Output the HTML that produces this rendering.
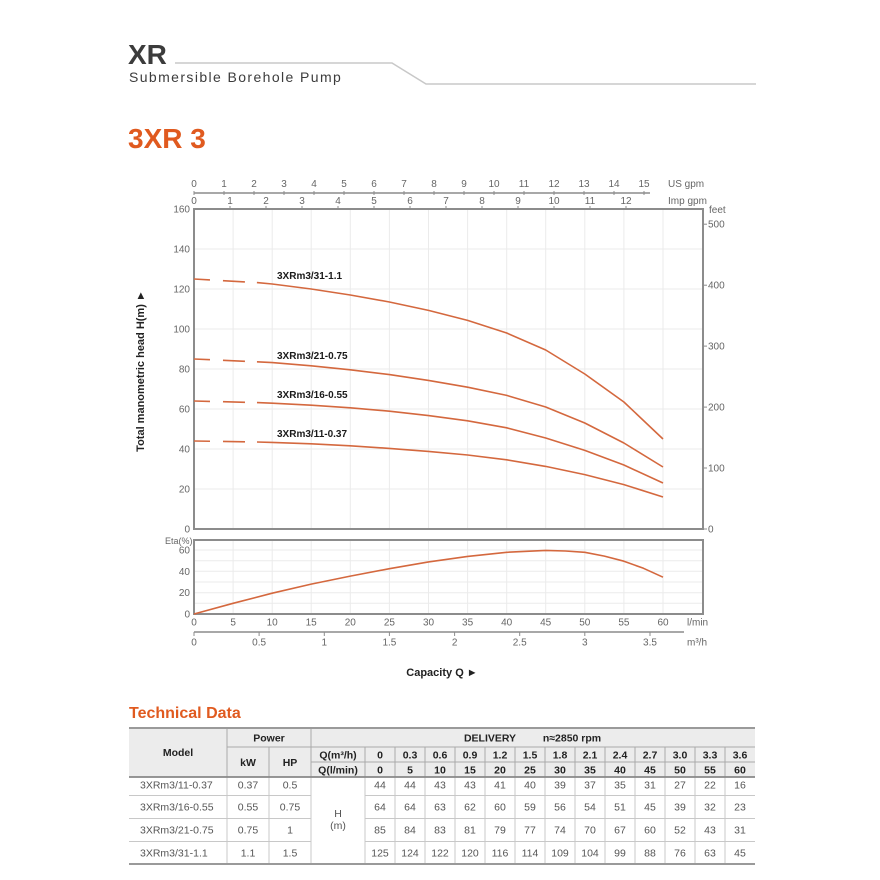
<!DOCTYPE html>
<html><head><meta charset="utf-8"><style>
html,body{margin:0;padding:0;background:#fff;}
svg{display:block;font-family:"Liberation Sans",Arial,sans-serif;}
</style></head><body>
<svg width="880" height="880" viewBox="0 0 880 880" xmlns="http://www.w3.org/2000/svg">
<rect width="880" height="880" fill="#fff"/>
<!-- header -->
<text x="128" y="64" font-size="28" font-weight="bold" fill="#3c3c3c">XR</text>
<text x="129" y="82" font-size="14" fill="#3c3c3c" letter-spacing="1.4">Submersible Borehole Pump</text>
<polyline points="175,63 392,63 426,84 756,84" fill="none" stroke="#c8c8c8" stroke-width="1.5"/>
<text x="128" y="148" font-size="28" font-weight="bold" fill="#e05a1f">3XR 3</text>

<!-- main chart gridlines -->
<g stroke="#ebebeb" stroke-width="1">
<line x1="233.1" y1="209" x2="233.1" y2="529"/><line x1="272.2" y1="209" x2="272.2" y2="529"/>
<line x1="311.2" y1="209" x2="311.2" y2="529"/><line x1="350.3" y1="209" x2="350.3" y2="529"/>
<line x1="389.4" y1="209" x2="389.4" y2="529"/><line x1="428.5" y1="209" x2="428.5" y2="529"/>
<line x1="467.6" y1="209" x2="467.6" y2="529"/><line x1="506.7" y1="209" x2="506.7" y2="529"/>
<line x1="545.7" y1="209" x2="545.7" y2="529"/><line x1="584.8" y1="209" x2="584.8" y2="529"/>
<line x1="623.9" y1="209" x2="623.9" y2="529"/><line x1="663" y1="209" x2="663" y2="529"/>
<line x1="194" y1="249" x2="703" y2="249"/><line x1="194" y1="289" x2="703" y2="289"/>
<line x1="194" y1="329" x2="703" y2="329"/><line x1="194" y1="369" x2="703" y2="369"/>
<line x1="194" y1="409" x2="703" y2="409"/><line x1="194" y1="449" x2="703" y2="449"/>
<line x1="194" y1="489" x2="703" y2="489"/>
</g>
<rect x="194" y="209" width="509" height="320" fill="none" stroke="#8c8c8c" stroke-width="2"/>

<!-- left labels -->
<g font-size="10" fill="#666" text-anchor="end">
<text x="190" y="212.5">160</text><text x="190" y="252.5">140</text><text x="190" y="292.5">120</text>
<text x="190" y="332.5">100</text><text x="190" y="372.5">80</text><text x="190" y="412.5">60</text>
<text x="190" y="452.5">40</text><text x="190" y="492.5">20</text><text x="190" y="532.5">0</text>
</g>
<!-- right feet -->
<g stroke="#8c8c8c" stroke-width="1">
<line x1="703" y1="224.2" x2="707" y2="224.2"/><line x1="703" y1="285.2" x2="707" y2="285.2"/>
<line x1="703" y1="346.1" x2="707" y2="346.1"/><line x1="703" y1="407.1" x2="707" y2="407.1"/>
<line x1="703" y1="468" x2="707" y2="468"/><line x1="703" y1="529" x2="707" y2="529"/>
</g>
<g font-size="10" fill="#666">
<text x="709" y="213">feet</text>
<text x="708" y="227.7">500</text><text x="708" y="288.7">400</text><text x="708" y="349.6">300</text>
<text x="708" y="410.6">200</text><text x="708" y="471.5">100</text><text x="708" y="532.5">0</text>
</g>

<!-- top axes -->
<line x1="194" y1="193" x2="650" y2="193" stroke="#8c8c8c" stroke-width="1.5"/>
<g stroke="#8c8c8c" stroke-width="1">
<line x1="194" y1="191" x2="194" y2="195"/><line x1="224" y1="191" x2="224" y2="195"/><line x1="254" y1="191" x2="254" y2="195"/>
<line x1="284" y1="191" x2="284" y2="195"/><line x1="314" y1="191" x2="314" y2="195"/><line x1="344" y1="191" x2="344" y2="195"/>
<line x1="374" y1="191" x2="374" y2="195"/><line x1="404" y1="191" x2="404" y2="195"/><line x1="434" y1="191" x2="434" y2="195"/>
<line x1="464" y1="191" x2="464" y2="195"/><line x1="494" y1="191" x2="494" y2="195"/><line x1="524" y1="191" x2="524" y2="195"/>
<line x1="554" y1="191" x2="554" y2="195"/><line x1="584" y1="191" x2="584" y2="195"/><line x1="614" y1="191" x2="614" y2="195"/>
<line x1="644" y1="191" x2="644" y2="195"/>
<line x1="230" y1="206" x2="230" y2="209"/><line x1="266" y1="206" x2="266" y2="209"/><line x1="302" y1="206" x2="302" y2="209"/>
<line x1="338" y1="206" x2="338" y2="209"/><line x1="374" y1="206" x2="374" y2="209"/><line x1="410" y1="206" x2="410" y2="209"/>
<line x1="446" y1="206" x2="446" y2="209"/><line x1="482" y1="206" x2="482" y2="209"/><line x1="518" y1="206" x2="518" y2="209"/>
<line x1="554" y1="206" x2="554" y2="209"/><line x1="590" y1="206" x2="590" y2="209"/><line x1="626" y1="206" x2="626" y2="209"/>
</g>
<g font-size="10" fill="#666" text-anchor="middle">
<text x="194" y="187">0</text><text x="224" y="187">1</text><text x="254" y="187">2</text><text x="284" y="187">3</text>
<text x="314" y="187">4</text><text x="344" y="187">5</text><text x="374" y="187">6</text><text x="404" y="187">7</text>
<text x="434" y="187">8</text><text x="464" y="187">9</text><text x="494" y="187">10</text><text x="524" y="187">11</text>
<text x="554" y="187">12</text><text x="584" y="187">13</text><text x="614" y="187">14</text><text x="644" y="187">15</text>
<text x="194" y="204">0</text><text x="230" y="204">1</text><text x="266" y="204">2</text><text x="302" y="204">3</text>
<text x="338" y="204">4</text><text x="374" y="204">5</text><text x="410" y="204">6</text><text x="446" y="204">7</text>
<text x="482" y="204">8</text><text x="518" y="204">9</text><text x="554" y="204">10</text><text x="590" y="204">11</text>
<text x="626" y="204">12</text>
</g>
<g font-size="10" fill="#666">
<text x="668" y="187">US gpm</text>
<text x="668" y="204">Imp gpm</text>
</g>

<!-- y title -->
<text transform="translate(144,371) rotate(-90)" text-anchor="middle" font-size="11" font-weight="bold" fill="#222">Total manometric head H(m) ►</text>

<!-- curves -->
<g fill="none" stroke="#d4683e" stroke-width="1.6" stroke-linejoin="round" stroke-linecap="butt">
<line x1="194" y1="279" x2="257" y2="282.6" stroke-dasharray="16 13 22 12"/>
<polyline points="257,282.6 272.2,284 311.2,289 350.3,295 389.4,302 428.5,310.4 467.6,320.4 506.7,333 545.7,350 584.8,374 623.9,402 663,439"/>
<line x1="194" y1="359" x2="257" y2="361.8" stroke-dasharray="16 13 22 12"/>
<polyline points="257,361.8 272.2,362.6 311.2,365.8 350.3,369.8 389.4,374.6 428.5,380.4 467.6,387.2 506.7,395.4 545.7,407 584.8,423 623.9,443 663,467"/>
<line x1="194" y1="401" x2="257" y2="402.6" stroke-dasharray="16 13 22 12"/>
<polyline points="257,402.6 272.2,403.2 311.2,405.2 350.3,407.8 389.4,411.2 428.5,415.6 467.6,420.8 506.7,427.8 545.7,438 584.8,450.4 623.9,465 663,483"/>
<line x1="194" y1="441" x2="257" y2="442" stroke-dasharray="16 13 22 12"/>
<polyline points="257,442 272.2,442.4 311.2,443.8 350.3,445.8 389.4,448.4 428.5,451.4 467.6,455 506.7,459.8 545.7,466.4 584.8,474.6 623.9,484.6 663,497"/>
</g>
<g font-size="10" font-weight="bold" fill="#1a1a1a">
<text x="277" y="279">3XRm3/31-1.1</text>
<text x="277" y="359">3XRm3/21-0.75</text>
<text x="277" y="398">3XRm3/16-0.55</text>
<text x="277" y="437">3XRm3/11-0.37</text>
</g>

<!-- eta chart -->
<g stroke="#ebebeb" stroke-width="1">
<line x1="233.1" y1="540" x2="233.1" y2="614"/><line x1="272.2" y1="540" x2="272.2" y2="614"/>
<line x1="311.2" y1="540" x2="311.2" y2="614"/><line x1="350.3" y1="540" x2="350.3" y2="614"/>
<line x1="389.4" y1="540" x2="389.4" y2="614"/><line x1="428.5" y1="540" x2="428.5" y2="614"/>
<line x1="467.6" y1="540" x2="467.6" y2="614"/><line x1="506.7" y1="540" x2="506.7" y2="614"/>
<line x1="545.7" y1="540" x2="545.7" y2="614"/><line x1="584.8" y1="540" x2="584.8" y2="614"/>
<line x1="623.9" y1="540" x2="623.9" y2="614"/><line x1="663" y1="540" x2="663" y2="614"/>
<line x1="194" y1="603.3" x2="703" y2="603.3"/><line x1="194" y1="592.7" x2="703" y2="592.7"/>
<line x1="194" y1="582" x2="703" y2="582"/><line x1="194" y1="571.3" x2="703" y2="571.3"/>
<line x1="194" y1="560.7" x2="703" y2="560.7"/><line x1="194" y1="550" x2="703" y2="550"/>
</g>
<rect x="194" y="540" width="509" height="74" fill="none" stroke="#8c8c8c" stroke-width="2"/>
<g font-size="10" fill="#666" text-anchor="end">
<text x="190" y="553.5">60</text><text x="190" y="574.8">40</text><text x="190" y="596.2">20</text><text x="190" y="617.5">0</text>
</g>
<text x="165" y="544" font-size="9" fill="#666">Eta(%)</text>
<polyline fill="none" stroke="#d4683e" stroke-width="1.6" stroke-linejoin="round" points="194,614 233.1,603.3 272.2,593.2 311.2,584.1 350.3,576.1 389.4,568.7 428.5,561.9 467.6,556.4 506.7,552.3 545.7,550.4 565.3,551 584.8,552.3 604.4,556.1 623.9,561.2 643.5,568.3 663,577.2"/>
<g font-size="10" fill="#666" text-anchor="middle">
<text x="194" y="625.5">0</text><text x="233.1" y="625.5">5</text><text x="272.2" y="625.5">10</text>
<text x="311.2" y="625.5">15</text><text x="350.3" y="625.5">20</text><text x="389.4" y="625.5">25</text>
<text x="428.5" y="625.5">30</text><text x="467.6" y="625.5">35</text><text x="506.7" y="625.5">40</text>
<text x="545.7" y="625.5">45</text><text x="584.8" y="625.5">50</text><text x="623.9" y="625.5">55</text>
<text x="663" y="625.5">60</text>
</g>
<text x="687" y="625.5" font-size="10" fill="#666">l/min</text>
<!-- m3/h axis -->
<line x1="194" y1="632" x2="684" y2="632" stroke="#8c8c8c" stroke-width="1.5"/>
<g stroke="#8c8c8c" stroke-width="1">
<line x1="194" y1="632" x2="194" y2="636"/><line x1="259.1" y1="632" x2="259.1" y2="636"/>
<line x1="324.3" y1="632" x2="324.3" y2="636"/><line x1="389.4" y1="632" x2="389.4" y2="636"/>
<line x1="454.6" y1="632" x2="454.6" y2="636"/><line x1="519.7" y1="632" x2="519.7" y2="636"/>
<line x1="584.8" y1="632" x2="584.8" y2="636"/><line x1="650" y1="632" x2="650" y2="636"/>
</g>
<g font-size="10" fill="#666" text-anchor="middle">
<text x="194" y="645.5">0</text><text x="259.1" y="645.5">0.5</text><text x="324.3" y="645.5">1</text>
<text x="389.4" y="645.5">1.5</text><text x="454.6" y="645.5">2</text><text x="519.7" y="645.5">2.5</text>
<text x="584.8" y="645.5">3</text><text x="650" y="645.5">3.5</text>
</g>
<text x="687" y="645.5" font-size="10" fill="#666">m³/h</text>
<text x="442" y="676" text-anchor="middle" font-size="11" font-weight="bold" fill="#222">Capacity Q ►</text>

<!-- Technical data -->
<text x="129" y="718" font-size="16" font-weight="bold" fill="#e05a1f">Technical Data</text>
<rect x="129" y="729" width="626" height="48" fill="#ececec"/>
<g stroke="#aaa" stroke-width="1">
<line x1="227" y1="747" x2="755" y2="747"/>
<line x1="311" y1="762" x2="755" y2="762"/>
<line x1="227" y1="729" x2="227" y2="777"/>
<line x1="311" y1="729" x2="311" y2="777"/>
<line x1="269" y1="747" x2="269" y2="777"/>
<line x1="365" y1="747" x2="365" y2="777"/>
<line x1="395" y1="747" x2="395" y2="777"/><line x1="425" y1="747" x2="425" y2="777"/>
<line x1="455" y1="747" x2="455" y2="777"/><line x1="485" y1="747" x2="485" y2="777"/>
<line x1="515" y1="747" x2="515" y2="777"/><line x1="545" y1="747" x2="545" y2="777"/>
<line x1="575" y1="747" x2="575" y2="777"/><line x1="605" y1="747" x2="605" y2="777"/>
<line x1="635" y1="747" x2="635" y2="777"/><line x1="665" y1="747" x2="665" y2="777"/>
<line x1="695" y1="747" x2="695" y2="777"/><line x1="725" y1="747" x2="725" y2="777"/>
</g>
<g stroke="#c8c8c8" stroke-width="1">
<line x1="129" y1="795.5" x2="311" y2="795.5"/><line x1="365" y1="795.5" x2="755" y2="795.5"/>
<line x1="129" y1="818.5" x2="311" y2="818.5"/><line x1="365" y1="818.5" x2="755" y2="818.5"/>
<line x1="129" y1="841.5" x2="311" y2="841.5"/><line x1="365" y1="841.5" x2="755" y2="841.5"/>
<line x1="227" y1="777" x2="227" y2="864"/><line x1="269" y1="777" x2="269" y2="864"/>
<line x1="311" y1="777" x2="311" y2="864"/><line x1="365" y1="777" x2="365" y2="864"/>
<line x1="395" y1="777" x2="395" y2="864"/><line x1="425" y1="777" x2="425" y2="864"/>
<line x1="455" y1="777" x2="455" y2="864"/><line x1="485" y1="777" x2="485" y2="864"/>
<line x1="515" y1="777" x2="515" y2="864"/><line x1="545" y1="777" x2="545" y2="864"/>
<line x1="575" y1="777" x2="575" y2="864"/><line x1="605" y1="777" x2="605" y2="864"/>
<line x1="635" y1="777" x2="635" y2="864"/><line x1="665" y1="777" x2="665" y2="864"/>
<line x1="695" y1="777" x2="695" y2="864"/><line x1="725" y1="777" x2="725" y2="864"/>
</g>
<line x1="129" y1="728" x2="755" y2="728" stroke="#9a9a9a" stroke-width="2"/>
<line x1="129" y1="777" x2="755" y2="777" stroke="#888" stroke-width="1.8"/>
<line x1="129" y1="864" x2="755" y2="864" stroke="#9a9a9a" stroke-width="2"/>

<g font-size="10.5" font-weight="bold" fill="#222" text-anchor="middle">
<text x="178" y="756">Model</text>
<text x="269" y="741.5">Power</text>
<text x="248" y="766">kW</text><text x="290" y="766">HP</text>
<text x="338" y="758.5">Q(m³/h)</text><text x="338" y="773.5">Q(l/min)</text>
<text x="490" y="741.5">DELIVERY</text><text x="572" y="741.5">n≈2850 rpm</text>
<text x="380" y="758.5">0</text><text x="410" y="758.5">0.3</text><text x="440" y="758.5">0.6</text>
<text x="470" y="758.5">0.9</text><text x="500" y="758.5">1.2</text><text x="530" y="758.5">1.5</text>
<text x="560" y="758.5">1.8</text><text x="590" y="758.5">2.1</text><text x="620" y="758.5">2.4</text>
<text x="650" y="758.5">2.7</text><text x="680" y="758.5">3.0</text><text x="710" y="758.5">3.3</text>
<text x="740" y="758.5">3.6</text>
<text x="380" y="773.5">0</text><text x="410" y="773.5">5</text><text x="440" y="773.5">10</text>
<text x="470" y="773.5">15</text><text x="500" y="773.5">20</text><text x="530" y="773.5">25</text>
<text x="560" y="773.5">30</text><text x="590" y="773.5">35</text><text x="620" y="773.5">40</text>
<text x="650" y="773.5">45</text><text x="680" y="773.5">50</text><text x="710" y="773.5">55</text>
<text x="740" y="773.5">60</text>
</g>
<g font-size="10.5" fill="#555">
<text x="140" y="788.5">3XRm3/11-0.37</text>
<text x="140" y="810.5">3XRm3/16-0.55</text>
<text x="140" y="833.5">3XRm3/21-0.75</text>
<text x="140" y="856.5">3XRm3/31-1.1</text>
</g>
<g font-size="10.5" fill="#555" text-anchor="middle">
<text x="248" y="788.5">0.37</text><text x="290" y="788.5">0.5</text>
<text x="248" y="810.5">0.55</text><text x="290" y="810.5">0.75</text>
<text x="248" y="833.5">0.75</text><text x="290" y="833.5">1</text>
<text x="248" y="856.5">1.1</text><text x="290" y="856.5">1.5</text>
<text x="338" y="817">H</text><text x="338" y="829">(m)</text>
<text x="380" y="788.5">44</text><text x="410" y="788.5">44</text><text x="440" y="788.5">43</text><text x="470" y="788.5">43</text><text x="500" y="788.5">41</text><text x="530" y="788.5">40</text><text x="560" y="788.5">39</text><text x="590" y="788.5">37</text><text x="620" y="788.5">35</text><text x="650" y="788.5">31</text><text x="680" y="788.5">27</text><text x="710" y="788.5">22</text><text x="740" y="788.5">16</text>
<text x="380" y="810.5">64</text><text x="410" y="810.5">64</text><text x="440" y="810.5">63</text><text x="470" y="810.5">62</text><text x="500" y="810.5">60</text><text x="530" y="810.5">59</text><text x="560" y="810.5">56</text><text x="590" y="810.5">54</text><text x="620" y="810.5">51</text><text x="650" y="810.5">45</text><text x="680" y="810.5">39</text><text x="710" y="810.5">32</text><text x="740" y="810.5">23</text>
<text x="380" y="833.5">85</text><text x="410" y="833.5">84</text><text x="440" y="833.5">83</text><text x="470" y="833.5">81</text><text x="500" y="833.5">79</text><text x="530" y="833.5">77</text><text x="560" y="833.5">74</text><text x="590" y="833.5">70</text><text x="620" y="833.5">67</text><text x="650" y="833.5">60</text><text x="680" y="833.5">52</text><text x="710" y="833.5">43</text><text x="740" y="833.5">31</text>
<text x="380" y="856.5">125</text><text x="410" y="856.5">124</text><text x="440" y="856.5">122</text><text x="470" y="856.5">120</text><text x="500" y="856.5">116</text><text x="530" y="856.5">114</text><text x="560" y="856.5">109</text><text x="590" y="856.5">104</text><text x="620" y="856.5">99</text><text x="650" y="856.5">88</text><text x="680" y="856.5">76</text><text x="710" y="856.5">63</text><text x="740" y="856.5">45</text>
</g>
</svg>
</body></html>
